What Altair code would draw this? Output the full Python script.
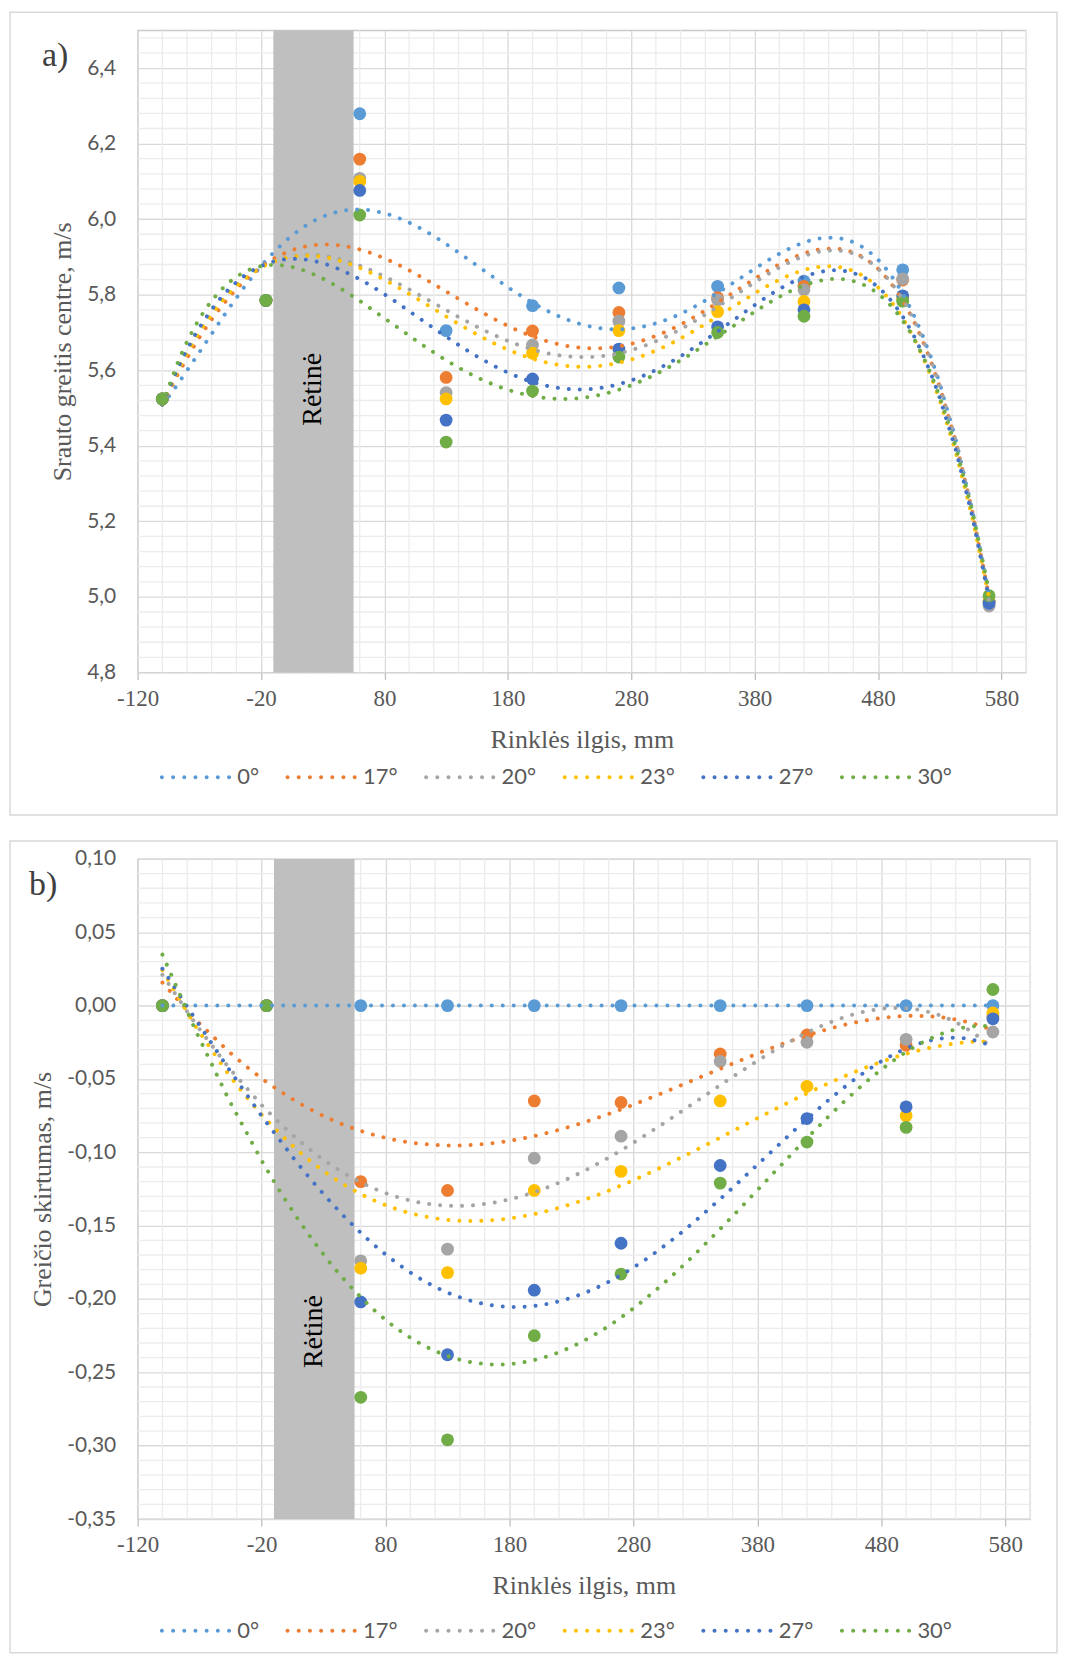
import altair as alt
import pandas as pd

# ---------------- data ----------------
X_MM = [-100, -16, 60, 130, 200, 270, 350, 420, 500, 570]
SERIES = ["0°", "17°", "20°", "23°", "27°", "30°"]
COLORS = ["#5B9BD5", "#ED7D31", "#A5A5A5", "#FFC000", "#4472C4", "#70AD47"]

# panel a) – Srauto greitis centre, m/s
A_0 = [5.524, 5.785, 6.279, 5.705, 5.771, 5.818, 5.822, 5.836, 5.866, 4.990]
A_17 = [5.524, 5.785, 6.159, 5.581, 5.704, 5.753, 5.792, 5.822, 5.839, 4.988]
A_20 = [5.524, 5.785, 6.108, 5.541, 5.667, 5.730, 5.786, 5.813, 5.842, 4.976]
A_23 = [5.524, 5.785, 6.100, 5.524, 5.645, 5.705, 5.755, 5.782, 5.790, 4.987]
A_27 = [5.524, 5.785, 6.076, 5.468, 5.577, 5.656, 5.715, 5.760, 5.797, 4.983]
A_30 = [5.524, 5.785, 6.011, 5.410, 5.545, 5.635, 5.700, 5.743, 5.783, 5.003]

# panel b) – Greičio skirtumas, m/s
B_0 = [0.0, 0.0, 0.0, 0.0, 0.0, 0.0, 0.0, 0.0, 0.0, 0.0]
B_17 = [0.0, 0.0, -0.120, -0.126, -0.065, -0.066, -0.033, -0.020, -0.027, -0.007]
B_20 = [0.0, 0.0, -0.174, -0.166, -0.104, -0.089, -0.038, -0.025, -0.023, -0.018]
B_23 = [0.0, 0.0, -0.179, -0.182, -0.126, -0.113, -0.065, -0.055, -0.075, -0.005]
B_27 = [0.0, 0.0, -0.202, -0.238, -0.194, -0.162, -0.109, -0.077, -0.069, -0.009]
B_30 = [0.0, 0.0, -0.267, -0.296, -0.225, -0.183, -0.121, -0.093, -0.083, 0.011]

RETINE_START = -10
RETINE_END = 55

X_DOMAIN = [-120, 600]
X_MAJOR = [-120, -20, 80, 180, 280, 380, 480, 580]
X_MINOR = [v for v in range(-120, 601, 20) if (v + 120) % 100 != 0]

A_DOMAIN = [4.8, 6.5]
A_MAJOR = [4.8, 5.0, 5.2, 5.4, 5.6, 5.8, 6.0, 6.2, 6.4]
A_MINOR = [round(4.8 + 0.04 * k, 2) for k in range(43) if k % 5 != 0]

B_DOMAIN = [-0.35, 0.10]
B_MAJOR = [-0.35, -0.30, -0.25, -0.20, -0.15, -0.10, -0.05, 0.0, 0.05, 0.10]
B_MINOR = [round(-0.35 + 0.01 * k, 2) for k in range(46) if k % 5 != 0]

SERIF = "Liberation Serif"
SANS = "Lato"
GREY_TXT = "#595959"

# legend symbol: seven round dots in a row (unit box -1..1)
_r = 0.056
_centers = [-1 + _r + i * (2 - 2 * _r) / 6 for i in range(7)]
DOT_PATH = " ".join(
    f"M{c - _r:.4f},0A{_r},{_r} 0 1 0 {c + _r:.4f},0A{_r},{_r} 0 1 0 {c - _r:.4f},0Z"
    for c in _centers
)


def make_panel(values, order, y_domain, y_major, y_minor, y_title, y_fmt,
               tag, tag_x, width, height, retine_y, legend_y, title_x,
               frame_bottom):
    rows = []
    for s, vals in zip(SERIES, values):
        for x, v in zip(X_MM, vals):
            rows.append({"series": s, "x": x, "y": v})
    df = pd.DataFrame(rows)

    xscale = alt.Scale(domain=X_DOMAIN, nice=False, zero=False)
    yscale = alt.Scale(domain=y_domain, nice=False, zero=False)
    cscale = alt.Scale(domain=SERIES, range=COLORS)

    x_axis = alt.Axis(
        values=X_MAJOR, title="Rinklės ilgis, mm",
        labelExpr="toString(datum.value)",
        labelFont=SERIF, labelFontSize=23, labelColor=GREY_TXT,
        labelPadding=8, labelFlush=False,
        titleFont=SERIF, titleFontSize=26, titleColor=GREY_TXT,
        titleFontWeight="normal", titleY=67, titleBaseline="middle",
        grid=True, gridColor="#d9d9d9", gridWidth=1.3,
        domain=False, ticks=True, tickColor="#bfbfbf", tickSize=7,
        tickWidth=1.3,
    )
    y_axis = alt.Axis(
        values=y_major, title=y_title,
        labelExpr=f"replace(replace(format(datum.value, '{y_fmt}'), '.', ','), '\u2212', '-')",
        labelFont=SANS, labelFontSize=21, labelColor=GREY_TXT,
        labelPadding=22,
        titleFont=SERIF, titleFontSize=26, titleColor=GREY_TXT,
        titleFontWeight="normal", titleX=title_x, titleBaseline="middle",
        grid=True, gridColor="#d9d9d9", gridWidth=1.3,
        domain=False, ticks=False,
    )

    def X(field):
        return alt.X(f"{field}:Q", scale=xscale, axis=x_axis)

    def Y(field):
        return alt.Y(f"{field}:Q", scale=yscale, axis=y_axis)

    frame = alt.Chart(pd.DataFrame({"f": [0]})).mark_rect(
        fill="white", fillOpacity=0, stroke="#d9d9d9", strokeWidth=1.5
    ).encode(
        x=alt.value(-128), x2=alt.value(922),
        y=alt.value(-18), y2=alt.value(frame_bottom),
    )

    minor_x = alt.Chart(pd.DataFrame({"gx": X_MINOR})).mark_rule(
        color="#ececec", strokeWidth=1.3
    ).encode(x=X("gx"))

    minor_y = alt.Chart(pd.DataFrame({"gy": y_minor})).mark_rule(
        color="#ececec", strokeWidth=1.3
    ).encode(y=Y("gy"))

    band_df = pd.DataFrame({"x0": [RETINE_START], "x1": [RETINE_END]})
    band = alt.Chart(band_df).mark_rect(color="#bfbfbf").encode(
        x=X("x0"), x2="x1", y=alt.value(0), y2=alt.value(height)
    )
    band_text = alt.Chart(band_df).transform_calculate(
        xc="(datum.x0 + datum.x1) / 2"
    ).mark_text(
        text="Rėtinė", angle=270, font=SERIF, fontSize=28, color="#000000",
        align="center", baseline="middle",
    ).encode(x=X("xc"), y=alt.value(retine_y))

    legend = alt.Legend(
        title=None, orient="none", legendX=22, legendY=legend_y,
        direction="horizontal", symbolType=DOT_PATH, symbolSize=5084,
        symbolStrokeWidth=0, symbolOpacity=1,
        labelFont=SANS, labelFontSize=22, labelColor=GREY_TXT,
        labelOffset=6, columnPadding=26, padding=0,
    )

    points = alt.Chart(df).mark_circle(size=165, opacity=1).encode(
        x=X("x"), y=Y("y"),
        color=alt.Color("series:N", scale=cscale, legend=legend),
    )

    lines = alt.Chart(df).transform_calculate(
        xs="datum.x / 100"
    ).transform_regression(
        "xs", "y", method="poly", order=order, groupby=["series"]
    ).transform_calculate(
        x="datum.xs * 100"
    ).mark_line(
        strokeDash=[0.01, 11], strokeCap="round", strokeWidth=4
    ).encode(
        x=X("x"), y=Y("y"),
        color=alt.Color("series:N", scale=cscale, legend=None),
        detail="series:N",
    )

    tag_text = alt.Chart(pd.DataFrame({"f": [0]})).mark_text(
        text=tag, font=SERIF, fontSize=34, color="#404040",
        align="left", baseline="alphabetic",
    ).encode(x=alt.value(tag_x), y=alt.value(36))

    return alt.layer(
        frame, minor_x, minor_y, band, band_text, points, lines, tag_text
    ).resolve_scale(color="independent").properties(width=width, height=height)


panel_a = make_panel(
    [A_0, A_17, A_20, A_23, A_27, A_30], 6, A_DOMAIN, A_MAJOR, A_MINOR,
    "Srauto greitis centre, m/s", ".1f", "a)", -96, 891, 644,
    retine_y=360, legend_y=713, title_x=-75, frame_bottom=787,
)
panel_b = make_panel(
    [B_0, B_17, B_20, B_23, B_27, B_30], 4, B_DOMAIN, B_MAJOR, B_MINOR,
    "Greičio skirtumas, m/s", ".2f", "b)", -109, 895, 662,
    retine_y=474, legend_y=738, title_x=-95, frame_bottom=796,
)

chart = alt.vconcat(panel_a, panel_b, spacing=22).properties(
    padding=0
).configure(font=SANS).configure_view(stroke="#c9c9c9", strokeWidth=1.3)

chart.save("out.html", embed_options={"renderer": "svg", "actions": False})
